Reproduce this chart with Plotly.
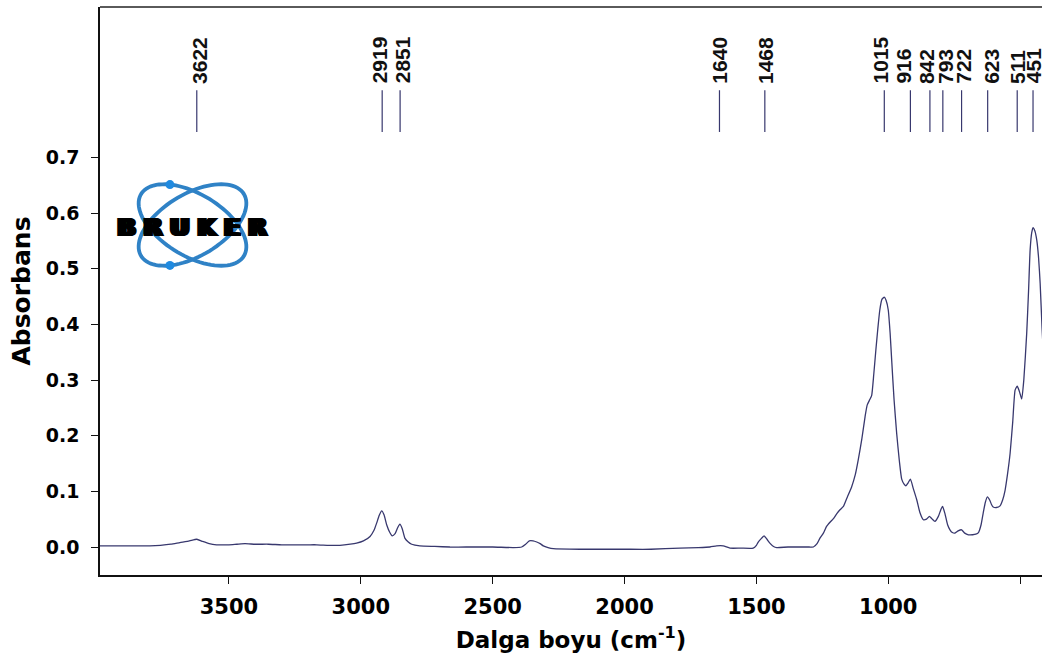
import numpy as np
import plotly.graph_objects as go

# FTIR absorbance spectrum (wavenumber in cm-1, absorbance)
wavenumber = [
    3989, 3900, 3800, 3760, 3720, 3686, 3650, 3622, 3600, 3575, 3547, 3500,
    3470, 3439, 3400, 3350, 3300, 3250, 3200, 3167, 3120, 3079, 3040, 3016,
    2990, 2965, 2950, 2940, 2930, 2921, 2912, 2902, 2890, 2881, 2870, 2860,
    2852, 2843, 2833, 2820, 2807, 2776, 2720, 2662, 2600, 2500, 2422, 2390,
    2375, 2361, 2347, 2333, 2320, 2308, 2290, 2270, 2169, 2106, 2000, 1900,
    1790, 1720, 1676, 1651, 1626, 1600, 1560, 1512, 1500, 1493, 1480, 1471,
    1460, 1449, 1435, 1423, 1380, 1300, 1284, 1270, 1259, 1246, 1234, 1220,
    1208, 1195, 1183, 1170, 1155, 1139, 1125, 1114, 1100, 1088, 1080, 1070,
    1063, 1055, 1047, 1040, 1032, 1024, 1015, 1008, 1000, 993, 987, 978,
    968, 958, 949, 940, 933, 925, 916, 905, 892, 880, 867, 855,
    844, 835, 823, 810, 800, 794, 785, 775, 766, 757, 747, 735,
    722, 710, 696, 680, 668, 658, 648, 640, 632, 624, 615, 608,
    602, 590, 576, 566, 557, 548, 538, 528, 519, 511, 503, 494,
    486, 475, 468, 462, 456, 451, 444, 437, 430, 424, 417, 410,
]
absorbance = [
    0.002, 0.002, 0.002, 0.003, 0.005, 0.008, 0.011, 0.014, 0.010, 0.006, 0.004, 0.004,
    0.005, 0.006, 0.005, 0.005, 0.004, 0.004, 0.004, 0.004, 0.003, 0.003, 0.005, 0.007,
    0.011, 0.019, 0.030, 0.043, 0.057, 0.065, 0.058, 0.040, 0.026, 0.020, 0.024, 0.035,
    0.041, 0.033, 0.016, 0.009, 0.005, 0.002, 0.001, 0.000, 0.000, 0.000, -0.001, 0.000,
    0.005, 0.011, 0.011, 0.009, 0.006, 0.002, -0.001, -0.003, -0.004, -0.004, -0.004, -0.004,
    -0.002, -0.001, 0.000, 0.002, 0.002, -0.002, -0.002, -0.002, 0.003, 0.009, 0.016, 0.020,
    0.014, 0.007, 0.001, -0.001, 0.000, 0.000, 0.000, 0.006, 0.016, 0.025, 0.037, 0.045,
    0.051, 0.060, 0.067, 0.073, 0.090, 0.108, 0.130, 0.156, 0.195, 0.234, 0.255, 0.265,
    0.272, 0.310, 0.354, 0.390, 0.426, 0.445, 0.449, 0.443, 0.426, 0.385, 0.336, 0.265,
    0.204, 0.155, 0.122, 0.113, 0.110, 0.115, 0.122, 0.105, 0.085, 0.062, 0.049, 0.050,
    0.055, 0.051, 0.046, 0.055, 0.068, 0.073, 0.060, 0.040, 0.031, 0.026, 0.025, 0.029,
    0.031, 0.025, 0.022, 0.022, 0.023, 0.026, 0.040, 0.061, 0.080, 0.090, 0.084, 0.076,
    0.072, 0.071, 0.074, 0.085, 0.102, 0.130, 0.168, 0.225, 0.282, 0.289, 0.280, 0.266,
    0.300, 0.384, 0.460, 0.534, 0.565, 0.574, 0.568, 0.552, 0.520, 0.474, 0.396, 0.330,
]

# Picked peak positions shown above the spectrum
peaks = [3622, 2919, 2851, 1640, 1468, 1015, 916, 842, 793, 722, 623, 511, 451]

x_ticks = [3500, 3000, 2500, 2000, 1500, 1000, 500]
y_ticks = [0.0, 0.1, 0.2, 0.3, 0.4, 0.5, 0.6, 0.7]

W, H = 1042, 655
ML, MR, MT, MB = 100, 0, 7, 80
X_RANGE = [3989, 417]
Y_RANGE = [-0.0503, 0.9706]
PEAK_Y0, PEAK_Y1, PEAK_TEXT_Y = 0.746, 0.821, 0.831
# horizontal nudges (px) that keep crowded peak labels apart
LABEL_NUDGE = [2, -3, 2, 0, 0, -4, -7, -4, 2, 2, 3, 0, 0]

LINE_COLOR = "#38386e"
LOGO_BLUE = "#2f82c6"

fig = go.Figure()

fig.add_trace(go.Scatter(
    x=wavenumber, y=absorbance, mode="lines",
    line=dict(color=LINE_COLOR, width=1.3, shape="spline", smoothing=0.5),
    hoverinfo="x+y", showlegend=False,
))

# Peak marker ticks (vertical segments) above the spectrum
px_, py_ = [], []
for p in peaks:
    px_ += [p, p, None]
    py_ += [PEAK_Y0, PEAK_Y1, None]
fig.add_trace(go.Scatter(
    x=px_, y=py_, mode="lines",
    line=dict(color=LINE_COLOR, width=1.2),
    hoverinfo="skip", showlegend=False,
))

annotations = []
for p, dx in zip(peaks, LABEL_NUDGE):
    annotations.append(dict(
        x=p, y=PEAK_TEXT_Y, xref="x", yref="y", xshift=dx,
        text=str(p), showarrow=False, textangle=-90,
        xanchor="center", yanchor="bottom", borderpad=0,
        font=dict(family="Liberation Sans", size=21, weight="bold", color="#111111"),
    ))

# Logo: two crossed orbit ellipses with electrons and the BRUKER wordmark
pw, ph = W - ML - MR, H - MT - MB


def to_paper(xp, yp):
    return (xp - ML) / pw, (H - MB - yp) / ph


cx, cy, a, b = 192.5, 225.0, 60.0, 31.0
shapes = []
t = np.linspace(0, 2 * np.pi, 90)
for sgn in (1, -1):
    th = np.deg2rad(31 * sgn)
    ex = cx + a * np.cos(t) * np.cos(th) - b * np.sin(t) * np.sin(th)
    ey = cy + a * np.cos(t) * np.sin(th) + b * np.sin(t) * np.cos(th)
    pts = [to_paper(u, v) for u, v in zip(ex, ey)]
    path = "M " + " L ".join(f"{u:.5f},{v:.5f}" for u, v in pts) + " Z"
    shapes.append(dict(type="path", xref="paper", yref="paper", path=path,
                       line=dict(color=LOGO_BLUE, width=3.8)))
    # electron dot on the left upper / lower lobe
    t0 = np.deg2rad(-132) * sgn
    dx = cx + a * np.cos(t0) * np.cos(th) - b * np.sin(t0) * np.sin(th)
    dy = cy + a * np.cos(t0) * np.sin(th) + b * np.sin(t0) * np.cos(th)
    x0, y0 = to_paper(dx - 4.5, dy + 4.5)
    x1, y1 = to_paper(dx + 4.5, dy - 4.5)
    shapes.append(dict(type="circle", xref="paper", yref="paper",
                       x0=x0, y0=y0, x1=x1, y1=y1,
                       fillcolor="#1f8ae0", line=dict(color="#1f8ae0", width=0)))

bx, by = to_paper(190, 228)
annotations.append(dict(
    x=bx, y=by, xref="paper", yref="paper", text="B\u2004R\u2004U\u2004K\u2004E\u2004R",
    showarrow=False, xanchor="center", yanchor="middle",
    font=dict(family="DejaVu Sans", size=24, weight="bold", color="#000000",
              shadow="-1px 0 0 #000, 1px 0 0 #000, 2px 0 0 #000, 3px 0 0 #000, 4px 0 0 #000"),
))

# Frame line along the top of the plotting area
shapes.append(dict(type="line", xref="paper", yref="paper", x0=0, x1=1, y0=1, y1=1,
                   line=dict(color="#5a5a5a", width=2)))

axis_font = dict(family="DejaVu Sans", weight="bold", color="#000000")

fig.update_layout(
    width=W, height=H,
    margin=dict(l=ML, r=MR, t=MT, b=MB, pad=0),
    paper_bgcolor="white", plot_bgcolor="white",
    shapes=shapes, annotations=annotations,
    xaxis=dict(
        range=X_RANGE, showgrid=False, zeroline=False,
        showline=True, linecolor="#111111", linewidth=1.6,
        ticks="outside", ticklen=7, tickwidth=1.3, tickcolor="#111111",
        tickvals=x_ticks, ticktext=[str(v) for v in x_ticks],
        tickfont=dict(size=21, **axis_font), ticklabelstandoff=5,
        title=dict(text="Dalga boyu (cm<sup>-1</sup>)", font=dict(size=23, **axis_font), standoff=14),
    ),
    yaxis=dict(
        range=Y_RANGE, showgrid=False, zeroline=False,
        showline=True, linecolor="#111111", linewidth=1.6,
        ticks="outside", ticklen=7, tickwidth=1.3, tickcolor="#111111",
        tickvals=y_ticks, ticktext=[f"{v:.1f}" for v in y_ticks],
        tickfont=dict(size=19, **axis_font), ticklabelstandoff=8,
        title=dict(text="Absorbans", font=dict(size=25, **axis_font), standoff=8),
    ),
)

fig.write_html("out.html")
